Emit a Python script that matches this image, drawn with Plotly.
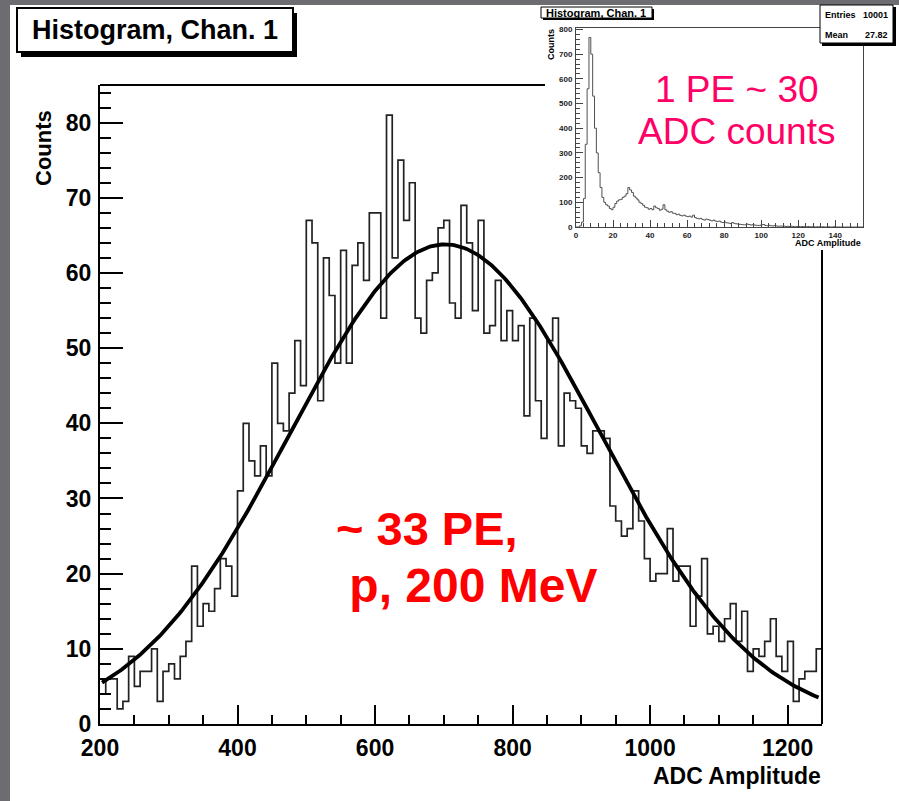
import numpy as np
import plotly.graph_objects as go

W, H = 899, 801

# ---------------- data: main histogram ----------------
bin_start = 200.0
bin_width = 25.0 / 3.0
main_counts = [4, 6, 6, 2, 3, 9, 5, 7, 7, 10,
               3, 7, 8, 6, 9, 11, 21, 13, 16, 15,
               18, 22, 21, 17, 31, 40, 35, 33, 37, 33,
               48, 40, 39, 44, 51, 45, 67, 64, 43, 62,
               57, 48, 63, 48, 61, 64, 59, 68, 68, 54,
               81, 62, 75, 67, 72, 54, 52, 59, 60, 66,
               67, 56, 54, 69, 64, 55, 67, 52, 53, 59,
               51, 55, 51, 53, 41, 54, 43, 38, 51, 54,
               37, 44, 43, 42, 37, 36, 39, 39, 38, 29,
               27, 25, 26, 31, 27, 22, 19, 20, 20, 26,
               19, 21, 21, 13, 17, 22, 12, 13, 11, 14,
               16, 11, 15, 7, 10, 9, 11, 14, 9, 7,
               11, 3, 6, 7, 7, 10]

# Gaussian fit parameters
fit_constant = 63.8
fit_mean = 702.0
fit_sigma = 225.5
fit_range = [203.0, 1245.0]

main_x_range = [200, 1250]
main_y_range = [0, 85]
main_x_ticks = [200, 400, 600, 800, 1000, 1200]
main_y_ticks = [0, 10, 20, 30, 40, 50, 60, 70, 80]

# ---------------- data: inset histogram ----------------
inset_start = 0.0
inset_width = 1.0
inset_counts = [0, 0, 5, 20, 115, 335, 560, 768, 700, 530,
                400, 300, 220, 160, 120, 100, 90, 85, 75, 70,
                80, 95, 105, 110, 112, 120, 125, 135, 160, 150,
                140, 125, 118, 110, 100, 95, 88, 80, 78, 72,
                75, 70, 85, 78, 75, 68, 72, 90, 70, 64,
                60, 62, 56, 55, 50, 52, 47, 45, 48, 44,
                42, 44, 40, 48, 38, 35, 33, 35, 30, 28,
                32, 30, 27, 25, 28, 24, 22, 24, 20, 18,
                20, 17, 16, 14, 18, 15, 13, 12, 11, 10,
                9, 9, 12, 10, 8, 9, 8, 7, 6, 7,
                9, 10, 6, 5, 7, 5, 4, 6, 4, 3,
                4, 3, 4, 2, 3, 2, 3, 2, 1, 2,
                2, 1, 2, 1, 1, 2, 1, 1, 1, 0,
                1, 1, 0, 1, 0, 0, 1, 0, 0, 1,
                0, 0, 0, 0, 0, 0, 0, 0, 0, 0,
                0, 0, 0, 0, 0, 0]
inset_entries = 10001
inset_mean = 27.82
inset_x_range = [0, 155]
inset_y_range = [0, 806]
inset_x_ticks = [0, 20, 40, 60, 80, 100, 120, 140]
inset_y_ticks = [0, 100, 200, 300, 400, 500, 600, 700, 800]

# ---------------- helpers ----------------
def px(x):
    return x / W

def py(y):
    return 1 - y / H

BOLD = "Liberation Sans, Arial, sans-serif"
SANS = "Liberation Sans, Arial, sans-serif"

edges = bin_start + bin_width * np.arange(len(main_counts) + 1)
hist_y = list(main_counts) + [main_counts[-1]]

fit_x = np.linspace(fit_range[0], fit_range[1], 400)
fit_y = fit_constant * np.exp(-0.5 * ((fit_x - fit_mean) / fit_sigma) ** 2)

in_edges = inset_start + inset_width * np.arange(len(inset_counts) + 1)
in_y = list(inset_counts) + [inset_counts[-1]]

fig = go.Figure()
fig.add_trace(go.Scatter(x=edges, y=hist_y, mode="lines", line=dict(shape="hv", color="#222222", width=1.7),
                         xaxis="x", yaxis="y", hoverinfo="skip", showlegend=False))
fig.add_trace(go.Scatter(x=fit_x, y=fit_y, mode="lines", line=dict(color="black", width=3.8),
                         xaxis="x", yaxis="y", hoverinfo="skip", showlegend=False))
fig.add_trace(go.Scatter(x=in_edges, y=in_y, mode="lines", line=dict(shape="hv", color="#505050", width=1.0),
                         xaxis="x2", yaxis="y2", hoverinfo="skip", showlegend=False))

axis_font = dict(family=BOLD, size=23, color="black", weight="bold")
small_font = dict(family=BOLD, size=8, color="#222222", weight="bold")

fig.update_layout(
    width=W, height=H,
    margin=dict(l=0, r=0, t=0, b=0, autoexpand=False),
    paper_bgcolor="#6c6c71",
    plot_bgcolor="rgba(0,0,0,0)",
    showlegend=False,
    xaxis=dict(domain=[px(100), px(822)], range=main_x_range, anchor="y", automargin=False,
               showline=True, linecolor="black", linewidth=2, mirror=False,
               showgrid=False, zeroline=False,
               ticks="inside", ticklen=19, tickwidth=2, tickcolor="black",
               tickvals=main_x_ticks, ticktext=[str(v) for v in main_x_ticks],
               tickfont=axis_font, ticklabelstandoff=2,
               minor=dict(ticks="inside", ticklen=9, tickwidth=2, tickcolor="black", dtick=50, showgrid=False)),
    yaxis=dict(domain=[py(724), py(85)], range=main_y_range, anchor="x", automargin=False,
               showline=True, linecolor="black", linewidth=2, mirror=False,
               showgrid=False, zeroline=False,
               ticks="inside", ticklen=23, tickwidth=2, tickcolor="black",
               tickvals=main_y_ticks, ticktext=[str(v) for v in main_y_ticks],
               tickfont=axis_font, ticklabelstandoff=2,
               minor=dict(ticks="inside", ticklen=11, tickwidth=2, tickcolor="black", dtick=2, showgrid=False)),
    xaxis2=dict(domain=[px(576), px(863)], range=inset_x_range, anchor="y2", automargin=False,
                showline=True, linecolor="#444444", linewidth=1, mirror=True,
                showgrid=False, zeroline=False,
                ticks="inside", ticklen=7, tickwidth=1, tickcolor="#444444",
                tickvals=inset_x_ticks, ticktext=[str(v) for v in inset_x_ticks],
                tickfont=small_font, ticklabelstandoff=0,
                minor=dict(ticks="inside", ticklen=4, tickwidth=1, tickcolor="#444444", dtick=4, showgrid=False)),
    yaxis2=dict(domain=[py(227), py(28)], range=inset_y_range, anchor="x2", automargin=False,
                showline=True, linecolor="#444444", linewidth=1, mirror=True,
                showgrid=False, zeroline=False,
                ticks="inside", ticklen=7, tickwidth=1, tickcolor="#444444",
                tickvals=inset_y_ticks, ticktext=[str(v) for v in inset_y_ticks],
                tickfont=small_font, ticklabelstandoff=1,
                minor=dict(ticks="inside", ticklen=4, tickwidth=1, tickcolor="#444444", dtick=20, showgrid=False)),
)

def rect(x0, y0, x1, y1, fill, line_color=None, lw=0, layer="below"):
    return dict(type="rect", xref="paper", yref="paper",
                x0=px(x0), x1=px(x1), y0=py(y1), y1=py(y0),
                fillcolor=fill, line=dict(color=line_color or fill, width=lw), layer=layer)

def seg(x0, y0, x1, y1, color="black", lw=2):
    return dict(type="line", xref="paper", yref="paper",
                x0=px(x0), x1=px(x1), y0=py(y0), y1=py(y1),
                line=dict(color=color, width=lw), layer="above")

shapes = [
    rect(10, 5, 899, 801, "white"),
    seg(100, 85, 545, 85),
    seg(822, 250, 822, 724),
    rect(21, 13, 297, 57, "black", layer="above"),
    rect(17, 8, 293, 52, "white", "black", 2, layer="above"),
    rect(543, 9, 654, 20, "black", layer="above"),
    rect(541, 7, 652, 18, "white", "black", 1, layer="above"),
    rect(822, 7, 896, 46, "black", layer="above"),
    rect(820, 5, 893, 43, "white", "black", 1, layer="above"),
]
fig.update_layout(shapes=shapes)

def ann(text, x, y, size, color="black", family=BOLD, weight="bold", xanchor="center", yanchor="middle", angle=0):
    return dict(text=text, x=px(x), y=py(y), xref="paper", yref="paper", showarrow=False,
                xanchor=xanchor, yanchor=yanchor, textangle=angle,
                font=dict(family=family, size=size, color=color, weight=weight))

annotations = [
    ann("Histogram, Chan. 1", 155, 30, 27),
    ann("Counts", 43, 148, 22, angle=-90),
    ann("ADC Amplitude", 823, 776, 23, xanchor="right"),
    ann("~ 33 PE,", 334, 528, 47, color="#ff0000", family=SANS, xanchor="left"),
    ann(" p, 200 MeV", 334, 585, 48, color="#ff0000", family=SANS, xanchor="left"),
    ann("Histogram, Chan. 1", 596, 12.5, 11),
    ann("Counts", 551, 45, 9, angle=-90),
    ann("ADC Amplitude", 863, 243, 9, xanchor="right"),
    ann("Entries", 823, 15, 9, xanchor="left"),
    ann(str(inset_entries), 890, 15, 9, xanchor="right"),
    ann("Mean", 823, 35, 9, xanchor="left"),
    ann(f"{inset_mean:.2f}", 890, 35, 9, xanchor="right"),
    ann("1 PE ~ 30", 737, 89, 37, color="#ff0066", family=SANS, weight="normal"),
    ann("ADC counts", 736, 132, 37, color="#ff0066", family=SANS, weight="normal"),
]
fig.update_layout(annotations=annotations)

fig.write_html("out.html",
               config={"displayModeBar": False, "staticPlot": True},
               post_script="document.body.style.margin='0px';document.documentElement.style.overflow='hidden';")
